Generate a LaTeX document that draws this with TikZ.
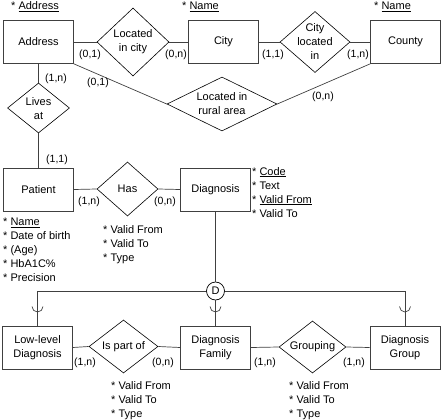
\documentclass[tikz,border=0pt]{standalone}
\usepackage{fontspec}
\setmainfont{Liberation Sans}
\usetikzlibrary{shapes.geometric,calc}
\begin{document}
\begin{tikzpicture}[x=1pt,y=-1pt,
 ent/.style={draw=black!75,line width=0.7pt,minimum width=70pt,minimum height=43pt,inner sep=0pt,align=center,font=\fontsize{11}{14}\selectfont},
 rel/.style={draw=black,line width=0.6pt,diamond,inner sep=0pt},
 rtxt/.style={align=center,font=\fontsize{11}{14}\selectfont,inner sep=0pt},
 card/.style={font=\fontsize{10.5}{12}\selectfont,inner sep=0pt},
 attr/.style={align=left,anchor=north west,font=\fontsize{11}{14}\selectfont,inner sep=0pt},
 key/.style={anchor=base west,font=\fontsize{11}{14}\selectfont,inner sep=0pt},
 conn/.style={draw=black!75,line width=0.7pt},
 subsetarc/.style={draw=black!75,line width=0.7pt},
 ]
\useasboundingbox (0,0) rectangle (442,420);

% entities
\node[ent] (address) at (38.5,42) {Address};
\node[ent] (city) at (223.5,42) {City};
\node[ent] (county) at (405.5,42) {County};
\node[ent] (patient) at (38.5,189.5) {Patient};
\node[ent] (diagnosis) at (215.5,189.5) {Diagnosis};
\node[ent] (low) at (37.5,347.5) {Low-level\\Diagnosis};
\node[ent] (family) at (215.5,347.5) {Diagnosis\\Family};
\node[ent] (group) at (405,347.5) {Diagnosis\\Group};

% key labels
\node[key] (kaddr) at (11,10) {* \underline{Address}};
\node[key] (kcity) at (182,10) {* \underline{Name}};
\node[key] (kcounty) at (374,10) {* \underline{Name}};

% relationships
\node[rel,minimum width=72pt,minimum height=68pt] (lic) at (133,42) {};
\node[rtxt] (lict) at (lic) {Located\\in city};
\node[rel,minimum width=70pt,minimum height=61pt] (cli) at (315,42) {};
\node[rtxt] (clit) at (cli) {City\\located\\in};
\node[rel,minimum width=110pt,minimum height=54pt] (rural) at (222,104) {};
\node[rtxt] (ruralt) at (rural) {Located in\\rural area};
\node[rel,minimum width=62pt,minimum height=50pt] (lives) at (38.5,108) {};
\node[rtxt] (livest) at ($(lives)+(0,1)$) {Lives\\at};
\node[rel,minimum width=61pt,minimum height=54pt] (has) at (127.5,189) {};
\node[rtxt] (hast) at (has) {Has};
\node[rel,minimum width=69pt,minimum height=53pt] (ispart) at (123.5,346.5) {};
\node[rtxt] (ispartt) at (ispart) {Is part of};
\node[rel,minimum width=67pt,minimum height=52pt] (grouping) at (312.5,347) {};
\node[rtxt] (groupingt) at (grouping) {Grouping};

% disjoint circle
\node[circle,draw=black,line width=0.7pt,minimum size=18pt,inner sep=0pt,font=\fontsize{11}{14}\selectfont] (D) at (215.5,291) {D};

% connectors
\draw[conn] (address.east) -- (lic.west);
\draw[conn] (lic.east) -- (city.west);
\draw[conn] (city.east) -- (cli.west);
\draw[conn] (cli.east) -- (county.west);
\draw[conn] (address.south east) -- (rural.west);
\draw[conn] (rural.east) -- (county.south west);
\draw[conn] (address.south) -- (lives.north);
\draw[conn] (lives.south) -- (patient.north);
\draw[conn] (patient.east) -- (has.west);
\draw[conn] (has.east) -- (diagnosis.west);
\draw[conn] (low.east) -- (ispart.west);
\draw[conn] (ispart.east) -- (family.west);
\draw[conn] (family.east) -- (grouping.west);
\draw[conn] (grouping.east) -- (group.west);
\draw[conn] (diagnosis.south) -- (D.north);
\draw[conn] (D.west) -| (low.north);
\draw[conn] (D.east) -| (group.north);
\draw[conn] (D.south) -- (family.north);

% subset arcs
\coordinate (s1) at (37.5,306.5);
\coordinate (s2) at (215.5,306.5);
\coordinate (s3) at (405,306.5);
\foreach \s in {s1,s2,s3}
  \draw[subsetarc] (\s) ++(-5.5pt,0pt) arc[start angle=180,end angle=360,radius=5.5pt];

% cardinalities
\node[card] (c1) at (90,55) {(0,1)};
\node[card] (c2) at (176,55) {(0,n)};
\node[card] (c3) at (273,55) {(1,1)};
\node[card] (c4) at (358,55) {(1,n)};
\node[card] (c5) at (98,83) {(0,1)};
\node[card] (c6) at (323,97) {(0,n)};
\node[card] (c7) at (56,79) {(1,n)};
\node[card] (c8) at (57,160) {(1,1)};
\node[card] (c9) at (89,202) {(1,n)};
\node[card] (c10) at (165,202) {(0,n)};
\node[card] (c11) at (85,363) {(1,n)};
\node[card] (c12) at (163,363) {(0,n)};
\node[card] (c13) at (265,363) {(1,n)};
\node[card] (c14) at (354,363) {(1,n)};

% attributes
\node[attr] (apatient) at (3,218) {* \underline{Name}\\* Date of birth\\* (Age)\\* HbA1C\%\\* Precision};
\node[attr] (adiag) at (252,167) {* \underline{Code}\\* Text\\* \underline{Valid From}\\* Valid To};
\node[attr] (ahas) at (103,225.5) {* Valid From\\* Valid To\\* Type};
\node[attr] (aispart) at (111,381) {* Valid From\\* Valid To\\* Type};
\node[attr] (agrouping) at (289,381) {* Valid From\\* Valid To\\* Type};
\end{tikzpicture}
\end{document}
